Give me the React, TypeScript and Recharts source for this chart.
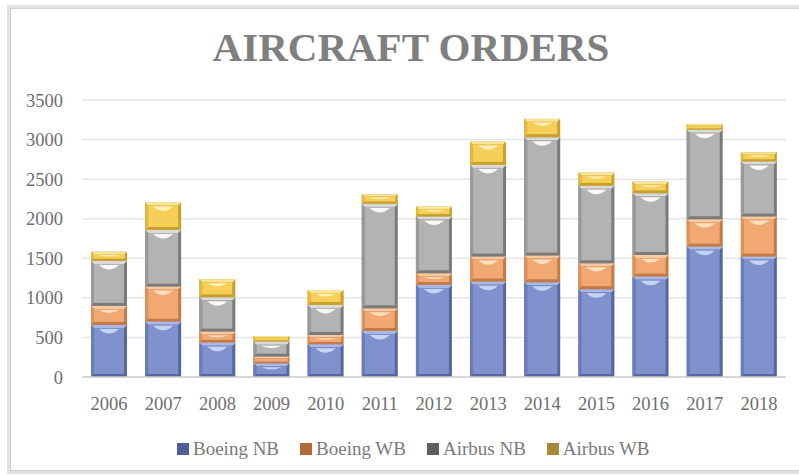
import React from "react";
import { BarChart, Bar, XAxis, YAxis, CartesianGrid, Legend } from "recharts";

const years = ["2006", "2007", "2008", "2009", "2010", "2011", "2012", "2013", "2014", "2015", "2016", "2017", "2018"];
const boeingNB = [657, 699, 434, 173, 413, 582, 1163, 1205, 1197, 1109, 1268, 1647, 1521];
const boeingWB = [241, 443, 139, 84, 118, 286, 148, 316, 337, 328, 274, 347, 506];
const airbusNB = [568, 716, 434, 189, 379, 1319, 716, 1159, 1496, 978, 780, 1129, 695];
const airbusWB = [118, 346, 228, 72, 190, 123, 126, 295, 232, 168, 147, 75, 119];
const yTicks = [0, 500, 1000, 1500, 2000, 2500, 3000, 3500];

const seriesNames = ["Boeing NB", "Boeing WB", "Airbus NB", "Airbus WB"];
const seriesKeys = ["bnb", "bwb", "anb", "awb"];

const palette = [
  { base: "#7f92cd", dark: "#56669f", light: "#a9b8e8", mid: "#6b7cb8", hi: "#cfdaf7", legend: "#4f5d99" },
  { base: "#f2a873", dark: "#c47a45", light: "#f8c9a0", mid: "#dd915c", hi: "#fde3c6", legend: "#b06a3a" },
  { base: "#b3b3b3", dark: "#7a7a7a", light: "#dadada", mid: "#9a9a9a", hi: "#ffffff", legend: "#5e5e5e" },
  { base: "#f6cf58", dark: "#c9a02e", light: "#fae49a", mid: "#e0b843", hi: "#fff3c4", legend: "#a88a36" },
];

const data = years.map((y, i) => ({
  year: y,
  bnb: boeingNB[i],
  bwb: boeingWB[i],
  anb: airbusNB[i],
  awb: airbusWB[i],
}));

const makeShape = (c: any) => (props: any) => {
  const { x, y, width: w, height: h } = props;
  if (!h || h <= 0) return <g />;
  const b = Math.min(3, h / 4);
  const hiDepth = Math.min(9, h / 3);
  const x1 = x + b + 5;
  const x2 = x + w - b - 5;
  const y0 = y + b + 1;
  return (
    <g>
      <rect x={x} y={y} width={w} height={h} fill={c.dark} />
      <polygon points={`${x},${y} ${x + w},${y} ${x + w - b},${y + b} ${x + b},${y + b}`} fill={c.light} />
      <polygon points={`${x},${y} ${x + b},${y + b} ${x + b},${y + h - b} ${x},${y + h}`} fill={c.mid} />
      <rect x={x + b} y={y + b} width={w - 2 * b} height={Math.max(0, h - 2 * b)} fill={c.base} />
      {h > 8 && (
        <path d={`M ${x1} ${y0} L ${x2} ${y0} Q ${x + w / 2} ${y0 + hiDepth} ${x1} ${y0} Z`} fill={c.hi} opacity={0.9} />
      )}
    </g>
  );
};

const shapes = palette.map((c) => makeShape(c));

const LegendContent = () => (
  <div
    style={{
      display: "flex",
      height: 24,
      alignItems: "center",
      paddingLeft: 177,
      fontFamily: "'Liberation Serif', serif",
      fontSize: 19,
      color: "#7a7a7a",
    }}
  >
    {seriesNames.map((n, i) => (
      <div key={n} style={{ display: "flex", alignItems: "center", marginRight: 21 }}>
        <div style={{ width: 12, height: 12, background: palette[i].legend, marginRight: 4 }} />
        <span>{n}</span>
      </div>
    ))}
  </div>
);

export default function App() {
  return (
    <div style={{ position: "absolute", left: 0, top: 0, width: 799, height: 475, background: "#fff" }}>
      <svg width={799} height={475} style={{ position: "absolute", left: 0, top: 0 }}>
        <rect x={8.5} y={6.5} width={800} height={466} fill="none" stroke="#e2e2e2" strokeWidth={3} />
        <rect x={10.5} y={8.5} width={800} height={462} fill="none" stroke="#d0d0d0" strokeWidth={1} />
        <text
          x={411}
          y={61}
          textAnchor="middle"
          fontFamily="'Liberation Serif', serif"
          fontWeight="bold"
          fontSize={41}
          fill="#7f7f7f"
        >
          AIRCRAFT ORDERS
        </text>
      </svg>
      <div style={{ position: "absolute", left: 0, top: 0 }}>
        <BarChart
          width={799}
          height={475}
          data={data}
          margin={{ top: 100, right: 13, bottom: 14, left: 0 }}
          barSize={36}
        >
          <CartesianGrid vertical={false} stroke="#e6e6e6" strokeWidth={1.5} />
          <XAxis
            dataKey="year"
            height={60}
            tickSize={0}
            tickMargin={20}
            axisLine={{ stroke: "#d0d0d0", strokeWidth: 1.5 }}
            tick={{ fontFamily: "'Liberation Serif', serif", fontSize: 18.5, fill: "#6e6e6e" }}
            interval={0}
          />
          <YAxis
            width={82}
            domain={[0, 3500]}
            ticks={yTicks}
            tickSize={0}
            tickMargin={19}
            axisLine={false}
            tickLine={false}
            tick={{ fontFamily: "'Liberation Serif', serif", fontSize: 18.5, fill: "#6e6e6e" }}
          />
          {seriesKeys.map((k, i) => (
            <Bar key={k} dataKey={k} name={seriesNames[i]} stackId="a" shape={shapes[i]} isAnimationActive={false} />
          ))}
          <Legend verticalAlign="bottom" content={<LegendContent />} wrapperStyle={{ left: 0, width: 799 }} />
        </BarChart>
      </div>
    </div>
  );
}
